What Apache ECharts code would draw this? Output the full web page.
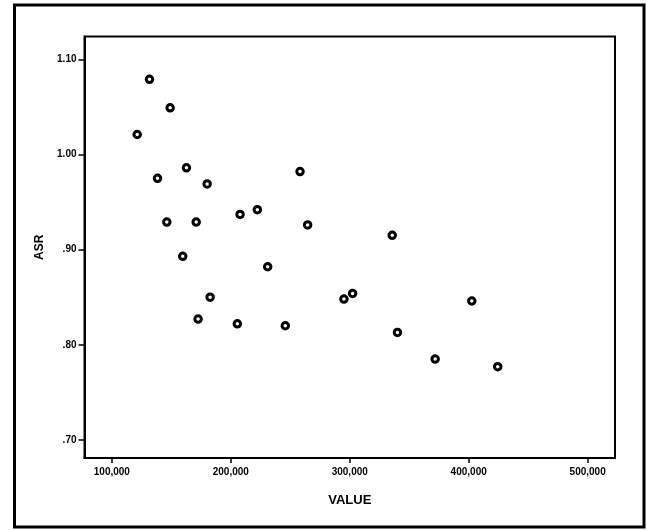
<!DOCTYPE html>
<html>
<head>
<meta charset="utf-8">
<script src="https://cdn.jsdelivr.net/npm/echarts@6/dist/echarts.min.js"></script>
<style>
html,body{margin:0;padding:0;background:#fff;}
#chart{width:647px;height:530px;}
</style>
</head>
<body>
<div id="chart"></div>
<script>
// Data (VALUE vs ASR)
const valueX = [121300, 131650, 149000, 162700, 138400, 180100, 258200, 146200, 170900, 207800,
                222300, 264600, 159600, 335700, 231000, 295100, 302400, 402600, 245800, 340100,
                371800, 424400, 182600, 172500, 205500];
const asrY   = [1.021, 1.079, 1.049, 0.986, 0.975, 0.969, 0.982, 0.929, 0.929, 0.937,
                0.942, 0.926, 0.893, 0.915, 0.882, 0.848, 0.854, 0.846, 0.820, 0.813,
                0.785, 0.777, 0.850, 0.827, 0.822];
const xTicks = [100000, 200000, 300000, 400000, 500000];
const yTicks = [0.70, 0.80, 0.90, 1.00, 1.10];
const xTitle = 'VALUE';
const yTitle = 'ASR';

const points = valueX.map((v, i) => [v, asrY[i]]);

function fmtX(v) {
  return String(Math.round(v)).replace(/\B(?=(\d{3})+(?!\d))/g, ',');
}
function fmtY(v) {
  const s = Number(v).toFixed(2);
  return s.startsWith('0') ? s.slice(1) : s;
}

const chart = echarts.init(document.getElementById('chart'), null, {renderer: 'canvas'});
const labelFont = {color: '#000', fontFamily: 'Liberation Sans, Arial, sans-serif', fontWeight: 'bold', fontSize: 10};

chart.setOption({
  animation: false,
  backgroundColor: '#fff',
  grid: {left: 84.5, right: 32, top: 36.5, bottom: 72, show: true, borderColor: '#000', borderWidth: 2, backgroundColor: 'transparent'},
  xAxis: {
    type: 'value', min: 77000, max: 523000,
    name: xTitle, nameLocation: 'middle', nameGap: 36,
    nameTextStyle: {color: '#000', fontFamily: 'Liberation Sans, Arial, sans-serif', fontWeight: 'bold', fontSize: 13},
    axisLine: {show: true, lineStyle: {color: '#000', width: 2}},
    axisTick: {show: true, length: 5, lineStyle: {color: '#000', width: 1.5}, customValues: xTicks},
    axisLabel: Object.assign({margin: 9, customValues: xTicks, formatter: fmtX}, labelFont),
    splitLine: {show: false}
  },
  yAxis: {
    type: 'value', min: 0.681, max: 1.124,
    name: yTitle, nameLocation: 'middle', nameGap: 37,
    nameTextStyle: {color: '#000', fontFamily: 'Liberation Sans, Arial, sans-serif', fontWeight: 'bold', fontSize: 12},
    axisLine: {show: true, lineStyle: {color: '#000', width: 2}},
    axisTick: {show: true, length: 6, lineStyle: {color: '#000', width: 1.5}, customValues: yTicks},
    axisLabel: Object.assign({margin: 8, customValues: yTicks, formatter: fmtY}, labelFont),
    splitLine: {show: false}
  },
  graphic: [{
    type: 'rect', silent: true, z: 100,
    shape: {x: 14.5, y: 5, width: 629.5, height: 522},
    style: {fill: 'none', stroke: '#000', lineWidth: 3}
  }],
  series: [{
    type: 'scatter',
    data: points,
    symbol: 'circle',
    symbolSize: 6.5,
    itemStyle: {color: '#fff', borderColor: '#000', borderWidth: 3, opacity: 1}
  }]
});
</script>
</body>
</html>
